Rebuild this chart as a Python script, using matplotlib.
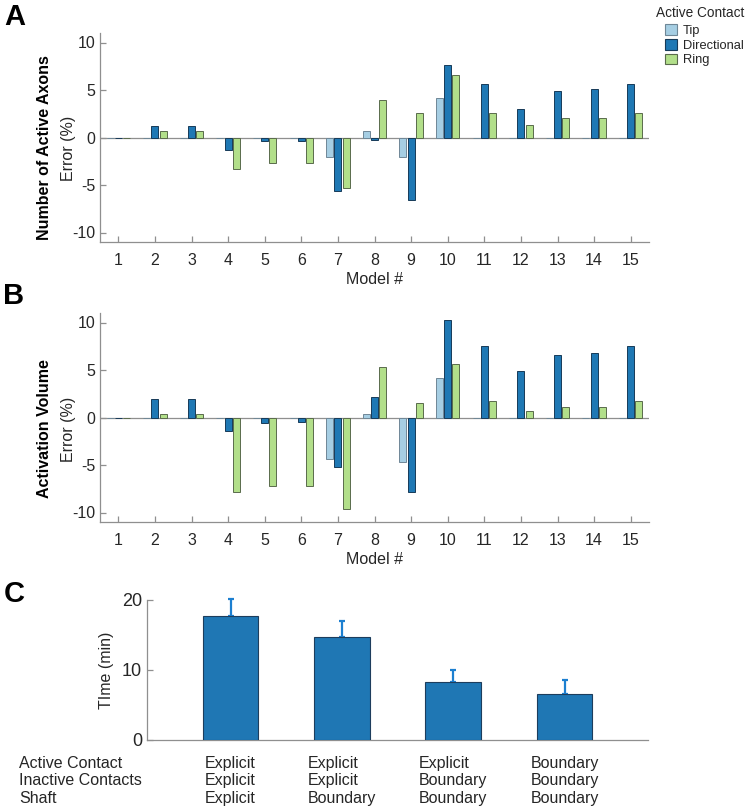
import matplotlib
matplotlib.use("Agg")
import matplotlib.pyplot as plt
from matplotlib.patches import Patch
import numpy as np

plt.rcParams['font.family'] = ['Liberation Sans', 'DejaVu Sans']

models = list(range(1, 16))
series_names = ["Tip", "Directional", "Ring"]
legend_title = "Active Contact"

axons_tip = [0, 0, 0, 0, 0, 0, -2.08, 0.67, -2.08, 4.16, 0, 0, 0, 0, 0]
axons_dir = [0, 1.16, 1.16, -1.27, -0.42, -0.32, -5.68, -0.28, -6.6, 7.65, 5.61, 2.96, 4.94, 5.15, 5.61]
axons_ring = [0, 0.67, 0.67, -3.28, -2.65, -2.65, -5.29, 3.95, 2.61, 6.6, 2.61, 1.34, 2.01, 2.01, 2.61]

vol_tip = [0, 0, 0, 0, 0, 0, -4.37, 0.32, -4.73, 4.13, 0, 0, 0, 0, 0]
vol_dir = [0, 1.94, 1.94, -1.45, -0.53, -0.46, -5.22, 2.19, -7.83, 10.3, 7.55, 4.94, 6.53, 6.81, 7.55]
vol_ring = [0, 0.35, 0.35, -7.8, -7.16, -7.16, -9.63, 5.29, 1.48, 5.61, 1.69, 0.71, 1.09, 1.09, 1.69]

time_mean = [17.7, 14.71, 8.29, 6.57]
time_err = [2.4, 2.24, 1.71, 1.98]
row_labels = ["Active Contact", "Inactive Contacts", "Shaft"]
cond_active = ["Explicit", "Explicit", "Explicit", "Boundary"]
cond_inactive = ["Explicit", "Explicit", "Boundary", "Boundary"]
cond_shaft = ["Explicit", "Boundary", "Boundary", "Boundary"]

fill_colors = ['#a6cee3', '#1f78b4', '#b2df8a']
edge_colors = ['#6f8797', '#173a58', '#5a6b4c']
axis_gray = '#8f8f8f'
text_col = '#262626'

W, H = 750, 810
fig = plt.figure(figsize=(W / 100, H / 100), dpi=100)


def px_axes(l, t, r, b):
    return fig.add_axes([l / W, 1 - b / H, (r - l) / W, (b - t) / H])


def style_axes(ax):
    for s in ['top', 'right']:
        ax.spines[s].set_visible(False)
    for s in ['left', 'bottom']:
        ax.spines[s].set_color(axis_gray)
        ax.spines[s].set_linewidth(0.9)
    ax.tick_params(direction='in', color=axis_gray, labelcolor=text_col,
                   labelsize=11.5, length=4, width=0.9)


def grouped(ax, tip, dr, ring):
    x = np.array(models, dtype=float)
    off = 0.226
    wid = 0.19
    for k, (vals, dx) in enumerate(zip([tip, dr, ring], [-off, 0, off])):
        ax.bar(x + dx, vals, width=wid, color=fill_colors[k],
               edgecolor=edge_colors[k], linewidth=0.7, zorder=3)
    ax.axhline(0, color=axis_gray, linewidth=0.9, zorder=2)
    ax.set_xlim(0.5, 15.5)
    ax.set_ylim(-11, 11)
    ax.set_xticks(models)
    ax.set_yticks([-10, -5, 0, 5, 10])
    ax.set_yticklabels(['-10', '-5', '0', '5', '10'])
    style_axes(ax)
    ax.tick_params(axis='x', pad=8)
    ax.set_xlabel("Model #", fontsize=11.5, color=text_col, labelpad=3)


axA = px_axes(100, 33, 649, 242)
grouped(axA, axons_tip, axons_dir, axons_ring)
axB = px_axes(100, 313, 649, 522)
grouped(axB, vol_tip, vol_dir, vol_ring)

fig.text(45 / W, 1 - 148 / H, "Number of Active Axons", rotation=90, fontsize=11.5,
         fontweight='bold', ha='center', va='center', color='black')
fig.text(68 / W, 1 - 148 / H, "Error (%)", rotation=90, fontsize=11.5,
         ha='center', va='center', color=text_col)
fig.text(45 / W, 1 - 429 / H, "Activation Volume", rotation=90, fontsize=11.5,
         fontweight='bold', ha='center', va='center', color='black')
fig.text(68 / W, 1 - 429 / H, "Error (%)", rotation=90, fontsize=11.5,
         ha='center', va='center', color=text_col)

for lab, (xx, yy) in zip("ABC", [(4, 3), (3, 282), (4, 580)]):
    fig.text(xx / W, 1 - yy / H, lab, fontsize=21, fontweight='bold',
             ha='left', va='top', color='black')

# legend (title drawn separately so the entries are indented as in the reference)
fig.text(656 / W, 1 - 6 / H, legend_title, fontsize=9.8, ha='left', va='top',
         color=text_col)
handles = [Patch(facecolor=fill_colors[k], edgecolor=edge_colors[k], linewidth=0.8)
           for k in range(3)]
leg = fig.legend(handles, series_names, loc='upper left',
                 bbox_to_anchor=(656 / W, 1 - 15 / H), frameon=False, fontsize=9.3,
                 handlelength=0.9, handleheight=0.9,
                 handletextpad=0.5, labelspacing=0.15, borderpad=0.2)
for t in leg.get_texts():
    t.set_color(text_col)

# Panel C
axC = px_axes(147, 600, 648, 740)
xc = np.arange(1, 5)
axC.bar(xc, time_mean, width=0.5, color='#1f77b4', edgecolor='#1d3d5c',
        linewidth=0.8, zorder=3)
axC.errorbar(xc, time_mean, yerr=[np.zeros(4), time_err], fmt='none',
             ecolor='#1c7fd0', elinewidth=1.6, capsize=2.5, capthick=1.6,
             zorder=2, clip_on=False)
axC.set_xlim(0.25, 4.75)
axC.set_ylim(0, 20)
axC.set_yticks([0, 10, 20])
axC.set_xticks([])
style_axes(axC)
axC.tick_params(axis='y', labelsize=13)
axC.set_ylabel("TIme (min)", fontsize=11.5, color=text_col, labelpad=6)

fig.text(19 / W, 1 - 756 / H, "\n".join(row_labels), fontsize=11.5, ha='left',
         va='top', linespacing=1.2, color=text_col)
for i in range(4):
    txt = "\n".join([cond_active[i], cond_inactive[i], cond_shaft[i]])
    axC.text(xc[i], -16 / 140, txt, transform=axC.get_xaxis_transform(),
             fontsize=11.5, ha='center', va='top', multialignment='left',
             linespacing=1.2, color=text_col)

fig.savefig("out.png", dpi=100)
